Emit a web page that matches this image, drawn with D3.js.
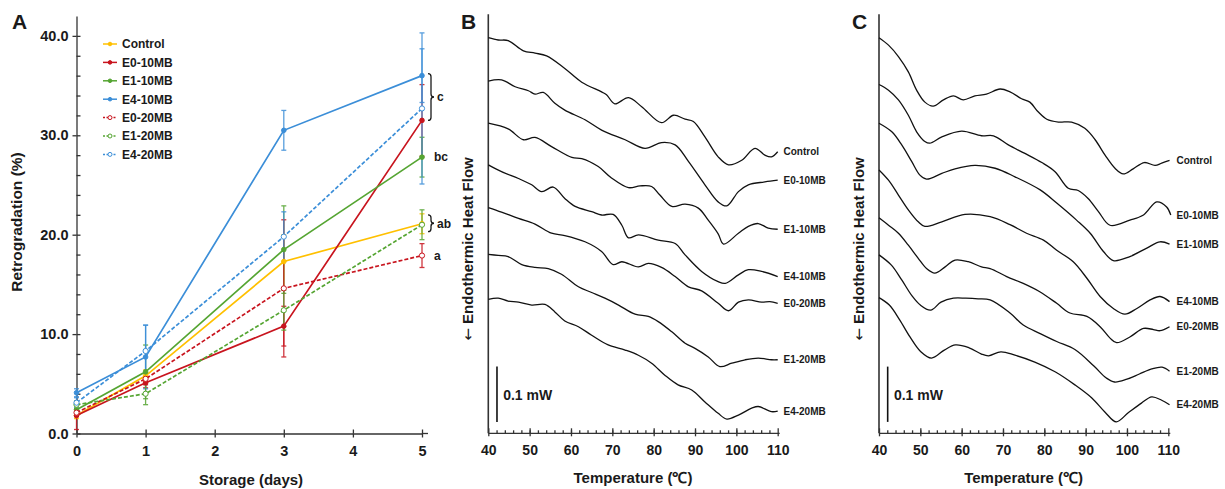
<!DOCTYPE html>
<html>
<head>
<meta charset="utf-8">
<script src="https://d3js.org/d3.v7.min.js"></script>
<style>
    body { margin: 0; background: #fff; }
    svg text { font-family: "Liberation Sans", Arial, sans-serif; font-weight: bold; fill: #1a1a1a; }
    .axis path, .axis line { stroke: #333; stroke-width: 1.3; }
</style>
</head>
<body>
<div class="chart"></div>
<script>
// ---------- panel A : retrogradation ----------
var days = [0, 1, 3, 5];
var seriesNames = ["Control", "E0-10MB", "E1-10MB", "E4-10MB", "E0-20MB", "E1-20MB", "E4-20MB"];
var controlMean = [1.8, 5.8, 17.3, 21.1];
var e0_10Mean   = [1.8, 5.1, 10.8, 31.5];
var e1_10Mean   = [2.4, 6.2, 18.5, 27.8];
var e4_10Mean   = [4.1, 7.7, 30.5, 36.0];
var e0_20Mean   = [2.1, 5.5, 14.6, 17.9];
var e1_20Mean   = [2.9, 4.0, 12.4, 21.0];
var e4_20Mean   = [3.1, 8.3, 19.8, 32.7];
var controlErr = [0.3, 0.6, 2.7, 1.0];
var e0_10Err   = [1.4, 0.5, 2.0, 3.6];
var e1_10Err   = [0.4, 2.7, 4.4, 2.0];
var e4_10Err   = [0.4, 3.2, 2.0, 2.7];
var e0_20Err   = [0.3, 0.6, 6.9, 1.2];
var e1_20Err   = [0.4, 1.1, 2.0, 1.5];
var e4_20Err   = [0.5, 2.6, 2.5, 7.6];
var yTicksA = [0, 10, 20, 30, 40];
var xTicksA = [0, 1, 2, 3, 4, 5];
// significance letters at day 5
var sigText = ["c", "bc", "ab", "a"];
var sigLow  = [31.5, 27.8, 20.3, 17.9];
var sigHigh = [36.2, 27.8, 22.0, 17.9];

// ---------- panels B, C : DSC curves (temperature, heat flow mW) ----------
var dscNames = ["Control", "E0-10MB", "E1-10MB", "E4-10MB", "E0-20MB", "E1-20MB", "E4-20MB"];
var tempTicks = [40, 50, 60, 70, 80, 90, 100, 110];

var b_control = [[40,0.694],[42.4,0.690],[44.8,0.689],[48.5,0.671],[51.3,0.667],[54.1,0.662],[58.5,0.640],[62.6,0.616],[67.4,0.599],[68.6,0.594],[70.6,0.578],[73.9,0.589],[77.1,0.573],[81.9,0.545],[84.8,0.558],[87.6,0.551],[89.6,0.547],[92.4,0.520],[95.6,0.485],[98.1,0.471],[101.3,0.479],[104.5,0.500],[106.9,0.488],[108.5,0.485],[110,0.494]];
var b_e0_10 = [[40,0.618],[43.2,0.620],[46.5,0.608],[49.7,0.601],[51.3,0.595],[53.3,0.598],[56.1,0.579],[58.5,0.567],[63.4,0.550],[67.4,0.532],[73.1,0.515],[77.9,0.500],[81.9,0.510],[85.2,0.506],[88.4,0.477],[92.4,0.436],[95.6,0.406],[97.7,0.399],[100.5,0.424],[102.9,0.436],[106.9,0.441],[110,0.444]];
var b_e1_10 = [[40,0.544],[44.8,0.534],[48.5,0.515],[51.3,0.519],[55.3,0.503],[60.2,0.484],[62.6,0.482],[66.6,0.468],[69.8,0.448],[73.9,0.431],[76.7,0.434],[79.5,0.433],[81.5,0.418],[84.4,0.398],[87.6,0.402],[90.8,0.395],[93.2,0.374],[95.6,0.350],[96.9,0.332],[100.5,0.351],[102.9,0.363],[105.3,0.368],[107.7,0.360],[110,0.358]];
var b_e4_10 = [[40,0.471],[43.2,0.459],[47.3,0.447],[50.5,0.436],[52.9,0.424],[55.7,0.432],[58.5,0.412],[61,0.398],[65,0.389],[67.4,0.383],[70.2,0.384],[72.3,0.365],[73.9,0.343],[76.3,0.348],[81.1,0.339],[85.2,0.333],[87.6,0.313],[91.6,0.284],[95.6,0.266],[97.3,0.263],[100.5,0.278],[102.9,0.287],[106.1,0.284],[110,0.275]];
var b_e0_20 = [[40,0.396],[43.2,0.388],[47.3,0.377],[51.3,0.367],[55.3,0.351],[58.5,0.347],[63.4,0.336],[67.4,0.319],[70.2,0.296],[72.3,0.301],[76.3,0.292],[78.7,0.298],[81.9,0.291],[85.2,0.275],[88.4,0.257],[91.6,0.250],[95.6,0.228],[98.1,0.215],[100.5,0.230],[102.9,0.234],[106.1,0.230],[108.1,0.231],[110,0.228]];
var b_e1_20 = [[40,0.314],[42.4,0.312],[44.8,0.310],[48.1,0.296],[51.3,0.291],[54.5,0.289],[57.7,0.279],[61.8,0.257],[65,0.247],[68.2,0.237],[71.5,0.225],[75.5,0.209],[78.7,0.205],[81.1,0.196],[84.4,0.178],[87.6,0.158],[90,0.149],[93.2,0.134],[96,0.117],[98.9,0.123],[102.1,0.129],[105.3,0.132],[108.5,0.129],[110,0.129]];
var b_e4_20 = [[40,0.235],[42.4,0.237],[44.8,0.232],[47.3,0.230],[50.5,0.225],[53.7,0.226],[56.1,0.213],[58.5,0.197],[61.8,0.187],[65,0.172],[69,0.155],[73.1,0.146],[76.3,0.137],[79.5,0.123],[82.7,0.102],[85.9,0.085],[89.2,0.076],[92.4,0.055],[95.6,0.035],[97.7,0.025],[100.5,0.032],[103.7,0.044],[105.3,0.047],[108.5,0.038],[110,0.039]];

var c_control = [[40,0.694],[42.3,0.681],[44.7,0.661],[47.1,0.634],[49.1,0.602],[51.1,0.581],[53.1,0.574],[55.6,0.585],[58,0.592],[60.4,0.585],[63.2,0.592],[66,0.595],[69.3,0.604],[71.7,0.599],[74.5,0.587],[76.5,0.581],[78.5,0.564],[80.6,0.551],[83.4,0.546],[86.6,0.546],[89.8,0.535],[92.3,0.515],[94.7,0.488],[97.1,0.465],[99.1,0.455],[101.5,0.464],[104.2,0.475],[106.8,0.470],[108.4,0.474],[110.3,0.479]];
var c_e0_10 = [[40,0.612],[42.3,0.602],[44.7,0.585],[47.1,0.558],[49.1,0.529],[51.1,0.512],[52.3,0.509],[55.2,0.520],[60,0.530],[64.8,0.522],[67.7,0.522],[71.3,0.506],[75.3,0.491],[79.4,0.475],[82.6,0.459],[85.8,0.430],[88.2,0.426],[90.6,0.412],[93.1,0.389],[95.9,0.365],[100.7,0.374],[104,0.383],[107.2,0.406],[109.6,0.397],[110.6,0.383]];
var c_e1_10 = [[40,0.544],[43.1,0.529],[45.5,0.506],[47.9,0.477],[49.9,0.453],[51.5,0.446],[55.2,0.456],[58.4,0.464],[63.2,0.470],[68.1,0.465],[72.9,0.450],[79,0.427],[83,0.404],[87.8,0.374],[91.1,0.351],[94.3,0.319],[96.7,0.303],[100.7,0.310],[104.8,0.325],[108,0.336],[110.3,0.332]];
var c_e4_10 = [[40,0.462],[42.3,0.444],[44.7,0.418],[47.1,0.392],[49.5,0.371],[51.1,0.363],[55.2,0.371],[60.8,0.384],[66.9,0.380],[71.7,0.366],[75.7,0.351],[79.8,0.339],[83,0.321],[87,0.301],[90.3,0.272],[93.5,0.240],[96.7,0.219],[99.5,0.209],[102.4,0.219],[105.6,0.234],[108,0.240],[110.3,0.231]];
var c_e0_20 = [[40,0.378],[42.3,0.365],[44.7,0.351],[47.1,0.330],[49.5,0.307],[51.5,0.289],[53.5,0.281],[56,0.292],[58.4,0.304],[61.6,0.301],[64.8,0.292],[66.9,0.289],[70.9,0.275],[74.9,0.263],[79,0.248],[83,0.228],[86.2,0.211],[90.3,0.205],[93.5,0.187],[95.9,0.167],[97.5,0.159],[100.7,0.169],[104,0.184],[106.4,0.182],[108,0.180],[110.3,0.187]];
var c_e1_20 = [[40,0.313],[43,0.295],[45.5,0.269],[48,0.241],[50,0.225],[52.5,0.216],[55,0.230],[58,0.237],[61,0.237],[64,0.236],[66.9,0.234],[71.7,0.211],[74.9,0.190],[79,0.175],[83,0.161],[87.4,0.147],[92,0.118],[95,0.097],[97,0.090],[100,0.095],[103,0.104],[106,0.113],[108.5,0.116],[110.3,0.109]];
var c_e4_20 = [[40,0.238],[42.5,0.225],[45,0.199],[47.5,0.169],[50,0.144],[52.7,0.132],[55.8,0.146],[58.5,0.155],[61.8,0.150],[64.8,0.139],[66.5,0.136],[69.5,0.143],[72.9,0.137],[77.7,0.125],[82.6,0.108],[87.4,0.085],[91.5,0.062],[94.7,0.037],[97.4,0.020],[100.3,0.036],[103.5,0.053],[106,0.064],[108.4,0.058],[110.3,0.050]];

// styles
var colors = ["#ffc000", "#c8141e", "#55a532", "#3b8ed8", "#c8141e", "#55a532", "#3b8ed8"];
var dashed = [false, false, false, false, true, true, true];

var w = 1225, h = 489;
var svg = d3.select("div.chart").append("svg").attr("width", w).attr("height", h);

// =============== A ===============
var means = [controlMean, e0_10Mean, e1_10Mean, e4_10Mean, e0_20Mean, e1_20Mean, e4_20Mean];
var errs = [controlErr, e0_10Err, e1_10Err, e4_10Err, e0_20Err, e1_20Err, e4_20Err];
var seriesA = seriesNames.map(function(n, i) {
    return { name: n, color: colors[i], dash: dashed[i],
        pts: days.map(function(d, j) { return { day: d, v: means[i][j], e: errs[i][j] }; }) };
});

var xA = d3.scaleLinear().domain([0, 5]).range([76.5, 422]);
var yA = d3.scaleLinear().domain([0, 42]).range([433.5, 16]);

var gA = svg.append("g");
//y axis
gA.append("g").attr("class", "axis").attr("transform", "translate(" + xA(0) + ",0)")
    .call(d3.axisLeft(yA).tickValues(yTicksA).tickFormat(d3.format(".1f")).tickSize(4).tickSizeOuter(0).tickPadding(4))
    .call(function(g) { g.selectAll("text").attr("font-size", 14.5); });
gA.append("g").attr("class", "axis").attr("transform", "translate(" + xA(0) + ",0)")
    .call(d3.axisRight(yA).tickValues(d3.range(0, 42, 2)).tickFormat("").tickSize(4))
    .call(function(g) { g.select(".domain").remove(); });
//x axis
gA.append("g").attr("class", "axis").attr("transform", "translate(0," + yA(0) + ")")
    .call(d3.axisBottom(xA).tickValues(xTicksA).tickFormat(d3.format("d")).tickSize(4).tickSizeOuter(0).tickPadding(8))
    .call(function(g) { g.selectAll("text").attr("font-size", 14.5); });
gA.append("g").attr("class", "axis").attr("transform", "translate(0," + yA(0) + ")")
    .call(d3.axisTop(xA).tickValues(xTicksA).tickFormat("").tickSize(4))
    .call(function(g) { g.select(".domain").remove(); });
gA.append("line").attr("x1", xA(5)).attr("x2", xA(5) + 6).attr("y1", yA(0)).attr("y2", yA(0))
    .attr("stroke", "#333").attr("stroke-width", 1.3);

gA.append("text").attr("x", 12).attr("y", 29).attr("font-size", 21).text("A");
gA.append("text").attr("transform", "translate(22,222) rotate(-90)").attr("text-anchor", "middle")
    .attr("font-size", 15.5).text("Retrogradation (%)");
gA.append("text").attr("x", 251).attr("y", 485).attr("text-anchor", "middle")
    .attr("font-size", 15).text("Storage (days)");

//error bars
seriesA.forEach(function(s) {
    var g = gA.append("g").attr("stroke", s.color).attr("stroke-width", 1.3).attr("opacity", 0.85);
    s.pts.forEach(function(p) {
        g.append("line").attr("x1", xA(p.day)).attr("x2", xA(p.day)).attr("y1", yA(p.v - p.e)).attr("y2", yA(p.v + p.e));
        [p.v - p.e, p.v + p.e].forEach(function(v) {
            g.append("line").attr("x1", xA(p.day) - 2.5).attr("x2", xA(p.day) + 2.5).attr("y1", yA(v)).attr("y2", yA(v));
        });
    });
});

var lineA = d3.line().x(function(d) { return xA(d.day); }).y(function(d) { return yA(d.v); });
seriesA.forEach(function(s) {
    gA.append("path").datum(s.pts).attr("d", lineA).attr("fill", "none")
        .attr("stroke", s.color).attr("stroke-width", 1.7)
        .attr("stroke-dasharray", s.dash ? "4,2" : null);
    gA.selectAll(null).data(s.pts).enter().append("circle")
        .attr("cx", function(d) { return xA(d.day); })
        .attr("cy", function(d) { return yA(d.v); })
        .attr("r", s.dash ? 2.6 : 2.3)
        .attr("fill", s.dash ? "#fff" : s.color)
        .attr("stroke", s.color).attr("stroke-width", 1);
});

//legend
var leg = gA.append("g");
seriesA.forEach(function(s, i) {
    var ly = 44 + i * 18.4;
    leg.append("line").attr("x1", 103).attr("x2", 117).attr("y1", ly).attr("y2", ly)
        .attr("stroke", s.color).attr("stroke-width", 1.5).attr("stroke-dasharray", s.dash ? "2,1.5" : null);
    leg.append("circle").attr("cx", 110).attr("cy", ly).attr("r", s.dash ? 2 : 1.8)
        .attr("fill", s.dash ? "#fff" : s.color).attr("stroke", s.color).attr("stroke-width", 1);
    leg.append("text").attr("x", 122).attr("y", ly).attr("dy", "0.36em").attr("font-size", 12).text(s.name);
});

//significance letters
sigText.forEach(function(t, i) {
    var x0 = xA(5) + 6;
    if (sigHigh[i] > sigLow[i]) {
        var y1 = yA(sigHigh[i]), y2 = yA(sigLow[i]), ym = (y1 + y2) / 2, r = 3, bw = 3;
        var p = "M" + x0 + "," + y1 + " Q" + (x0 + bw) + "," + y1 + " " + (x0 + bw) + "," + (y1 + r) +
            " L" + (x0 + bw) + "," + (ym - r) + " Q" + (x0 + bw) + "," + ym + " " + (x0 + 2 * bw) + "," + ym +
            " Q" + (x0 + bw) + "," + ym + " " + (x0 + bw) + "," + (ym + r) +
            " L" + (x0 + bw) + "," + (y2 - r) + " Q" + (x0 + bw) + "," + y2 + " " + x0 + "," + y2;
        gA.append("path").attr("d", p).attr("fill", "none").attr("stroke", "#1a1a1a").attr("stroke-width", 1.3);
        gA.append("text").attr("x", x0 + 9).attr("y", ym).attr("dy", "0.36em").attr("font-size", 12).text(t);
    } else {
        gA.append("text").attr("x", x0 + 6).attr("y", yA(sigLow[i])).attr("dy", "0.36em").attr("font-size", 12).text(t);
    }
});

// =============== B & C ===============
function drawDsc(curves, x0, x1, letter, letterX, labelX) {
    var x = d3.scaleLinear().domain([40, 110]).range([x0, x1]);
    var y = d3.scaleLinear().domain([0, 0.735]).range([433.3, 14.35]);
    var g = svg.append("g");

    g.append("line").attr("x1", x(40)).attr("x2", x(40)).attr("y1", y(0)).attr("y2", y(0.735))
        .attr("stroke", "#333").attr("stroke-width", 1.6);
    g.append("g").attr("class", "axis").attr("transform", "translate(0," + y(0) + ")")
        .call(d3.axisBottom(x).tickValues(tempTicks).tickFormat(d3.format("d")).tickSize(3).tickSizeOuter(0).tickPadding(9))
        .call(function(a) { a.selectAll("text").attr("font-size", 14); a.select(".domain").attr("d", "M" + x(40) + ",0H" + (x(110) + 2)); });
    g.append("g").attr("class", "axis").attr("transform", "translate(0," + y(0) + ")")
        .call(d3.axisTop(x).tickValues(tempTicks).tickFormat("").tickSize(5))
        .call(function(a) { a.select(".domain").remove(); });
    g.append("g").attr("class", "axis").attr("transform", "translate(0," + y(0) + ")")
        .call(d3.axisTop(x).tickValues(d3.range(42, 110, 2)).tickFormat("").tickSize(3))
        .call(function(a) { a.select(".domain").remove(); });

    var line = d3.line().x(function(d) { return x(d[0]); }).y(function(d) { return y(d[1]); })
        .curve(d3.curveCatmullRom.alpha(0.5));
    curves.forEach(function(c, i) {
        g.append("path").datum(c).attr("d", line).attr("fill", "none")
            .attr("stroke", "#111").attr("stroke-width", 1.3);
        var last = c[c.length - 1];
        g.append("text").attr("x", labelX).attr("y", y(last[1])).attr("dy", "0.36em")
            .attr("font-size", 10).text(dscNames[i]);
    });

    //scale bar
    g.append("line").attr("x1", x(42.1)).attr("x2", x(42.1)).attr("y1", y(0.02)).attr("y2", y(0.117))
        .attr("stroke", "#111").attr("stroke-width", 1.6);
    g.append("text").attr("x", x(43.6)).attr("y", y(0.067)).attr("dy", "0.36em").attr("font-size", 14).text("0.1 mW");

    g.append("text").attr("x", letterX).attr("y", 29).attr("font-size", 21).text(letter);
    var yl = g.append("text").attr("transform", "translate(" + (x0 - 15) + ",249) rotate(-90)").attr("text-anchor", "middle")
        .attr("font-size", 15);
    yl.append("tspan").attr("font-family", "DejaVu Sans").attr("font-weight", "normal").text("\u2190");
    yl.append("tspan").text(" Endothermic Heat Flow");
    g.append("text").attr("x", (x(40) + x(110)) / 2).attr("y", 483).attr("text-anchor", "middle")
        .attr("font-size", 15).text("Temperature (\u2103)");
}

drawDsc([b_control, b_e0_10, b_e1_10, b_e4_10, b_e0_20, b_e1_20, b_e4_20], 488.3, 777.7, "B", 461, 783.5);
drawDsc([c_control, c_e0_10, c_e1_10, c_e4_10, c_e0_20, c_e1_20, c_e4_20], 879, 1168.3, "C", 852, 1176.5);
</script>
</body>
</html>
